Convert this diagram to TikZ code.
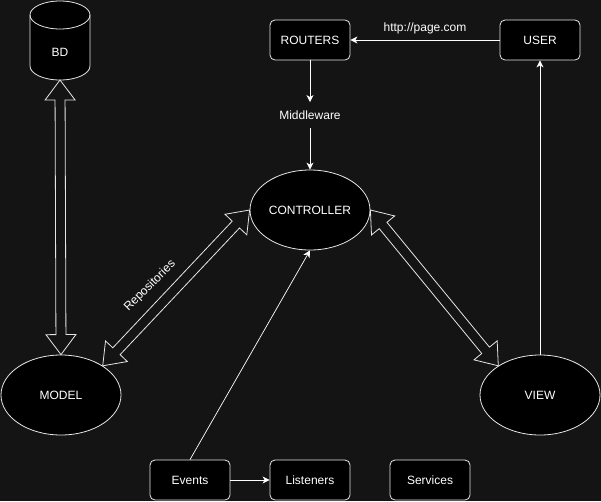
\documentclass[tikz,border=0pt]{standalone}
\usepackage{fontspec}
\setmainfont{Liberation Sans}
\usetikzlibrary{shapes.geometric,arrows.meta,calc}

\definecolor{bgcol}{HTML}{141414}
\definecolor{edgecol}{HTML}{E6E6E6}

% hollow two-headed block arrow between two points
% #1, #2: tips; shaft half width 5, head half width 15, head length 20
\newcommand{\blockarrow}[2]{%
  \draw[hollow]
    #1
    -- ($ ($#1!20pt!#2$) !15pt!90:#2 $)
    -- ($ ($#1!20pt!#2$) !5pt!90:#2 $)
    -- ($ ($#2!20pt!#1$) !5pt!-90:#1 $)
    -- ($ ($#2!20pt!#1$) !15pt!-90:#1 $)
    -- #2
    -- ($ ($#2!20pt!#1$) !15pt!90:#1 $)
    -- ($ ($#2!20pt!#1$) !5pt!90:#1 $)
    -- ($ ($#1!20pt!#2$) !5pt!-90:#2 $)
    -- ($ ($#1!20pt!#2$) !15pt!-90:#2 $)
    -- cycle;}

\begin{document}
\begin{tikzpicture}[x=1pt,y=-1pt,
  every node/.style={font=\fontsize{12}{14}\selectfont, text=white},
  box/.style={draw=edgecol, fill=black, rounded corners=5pt, line width=0.8pt,
    minimum width=80pt, minimum height=40pt, inner sep=0pt},
  oval/.style={ellipse, draw=edgecol, fill=black, line width=0.8pt,
    minimum width=120pt, minimum height=80pt, inner sep=0pt},
  link/.style={draw=white, line width=0.9pt,
    -{Stealth[length=7pt,width=7pt,inset=2pt]}},
  plain/.style={draw=edgecol, line width=0.7pt},
  hollow/.style={draw=edgecol, line width=0.8pt, line join=miter}]

  % background
  \fill[bgcol] (0,0) rectangle (601,501);
  \useasboundingbox (0,0) rectangle (601,501);

  % database cylinder
  \coordinate (bdtop) at (60,15);
  \coordinate (bdbot) at (60,66);
  \filldraw[fill=black, draw=edgecol, line width=0.8pt]
    (30,15) -- (30,66) arc[start angle=180, end angle=360, x radius=30, y radius=-14]
    -- (90,15) arc[start angle=0, end angle=180, x radius=30, y radius=-14] -- cycle;
  \draw[edgecol, line width=0.8pt]
    (30,15) arc[start angle=180, end angle=360, x radius=30, y radius=-14];
  \node (bd) at (60,52) {BD};
  \coordinate (bdfoot) at (60,80);

  % main components
  \node[oval] (model) at (61,395) {MODEL};
  \node[oval] (ctrl) at (310,210) {CONTROLLER};
  \node[oval] (view) at (540,395) {VIEW};

  \node[box] (routers) at (310,40) {ROUTERS};
  \node[box] (user) at (540,40) {USER};
  \node (mw) at (310,115) {Middleware};

  \node[box] (events) at (190,480) {Events};
  \node[box] (listeners) at (310,480) {Listeners};
  \node[box] (services) at (430,480) {Services};

  % request flow
  \draw[link] (user.west) -- node[above=2pt] {http://page.com} (routers.east);
  \draw[link] (routers.south) -- ($(mw.north)+(0,-5)$);
  \draw[link] ($(mw.south)+(0,5)$) -- (ctrl.north);
  \draw[link] (view.north) -- (user.south);
  \draw[link] (events.east) -- (listeners.west);
  \draw[plain, -{Stealth[length=7pt,width=7pt,inset=2pt]}, white] (events.north) -- (ctrl.south);

  % data links
  \blockarrow{(bdfoot)}{(model.north)}
  \blockarrow{(model.35)}{(ctrl.west)}
  \blockarrow{(ctrl.east)}{(view.145)}

  \node[rotate=45] (repo) at (150,286) {Repositories};
\end{tikzpicture}
\end{document}
